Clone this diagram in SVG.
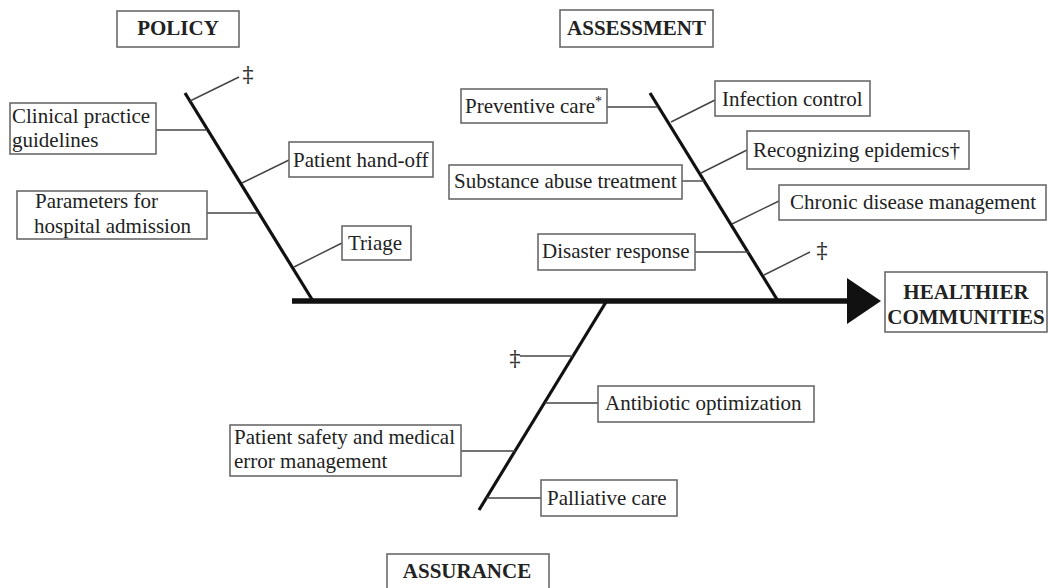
<svg xmlns="http://www.w3.org/2000/svg" width="1048" height="588" viewBox="0 0 1048 588">
<style>
  .box { fill: #ffffff; stroke: #6a6a6a; stroke-width: 1.6; }
  .t { font-family: "Liberation Serif", "Times New Roman", serif; font-size: 21px; fill: #222222; }
  .h { font-family: "Liberation Serif", "Times New Roman", serif; font-size: 21px; font-weight: bold; fill: #222222; text-anchor: middle; }
  .bone { stroke: #111111; stroke-width: 3.2; fill: none; stroke-linecap: butt; }
  .twig { stroke: #444444; stroke-width: 1.4; fill: none; }
  .dd { font-family: "DejaVu Serif", "Liberation Serif", serif; font-size: 22px; fill: #333333; text-anchor: middle; }
</style>
<rect width="1048" height="588" fill="#ffffff"/>

<g id="connectors">
  <!-- spine -->
  <line x1="292" y1="301" x2="852" y2="301" stroke="#111111" stroke-width="5.5"/>
  <polygon points="847,278 881,301 847,324" fill="#111111"/>
  <!-- main bones -->
  <line class="bone" x1="185" y1="93" x2="313" y2="301"/>
  <line class="bone" x1="650" y1="93" x2="778" y2="301"/>
  <line class="bone" x1="606" y1="302" x2="479" y2="510"/>
  <!-- policy twigs -->
  <line class="twig" x1="190" y1="101" x2="239" y2="77"/>
  <line class="twig" x1="156" y1="130" x2="207" y2="130"/>
  <line class="twig" x1="242" y1="183" x2="289" y2="160"/>
  <line class="twig" x1="207" y1="213" x2="258" y2="213"/>
  <line class="twig" x1="294" y1="267" x2="342" y2="243"/>
  <!-- assessment twigs -->
  <line class="twig" x1="607" y1="107" x2="658" y2="107"/>
  <line class="twig" x1="671" y1="122" x2="715" y2="100"/>
  <line class="twig" x1="701" y1="173" x2="747" y2="150"/>
  <line class="twig" x1="682" y1="181" x2="704" y2="181"/>
  <line class="twig" x1="732" y1="224" x2="779" y2="201"/>
  <line class="twig" x1="695" y1="252" x2="749" y2="252"/>
  <line class="twig" x1="764" y1="275" x2="810" y2="252"/>
  <!-- assurance twigs -->
  <line class="twig" x1="520" y1="356" x2="573" y2="356"/>
  <line class="twig" x1="545" y1="403" x2="598" y2="403"/>
  <line class="twig" x1="461" y1="451" x2="515" y2="451"/>
  <line class="twig" x1="486" y1="498" x2="541" y2="498"/>
</g>

<g id="policy">
  <rect class="box" x="117" y="11" width="122" height="36"/>
  <text class="h" x="178" y="35">POLICY</text>
</g>
<g id="assessment">
  <rect class="box" x="560" y="10" width="153" height="37"/>
  <text class="h" x="636.5" y="35">ASSESSMENT</text>
</g>
<g id="assurance">
  <rect class="box" x="387" y="554" width="162" height="42"/>
  <text class="h" x="467" y="578">ASSURANCE</text>
</g>
<g id="healthier-communities">
  <rect class="box" x="885" y="272" width="162" height="60"/>
  <text class="h" x="966" y="299">HEALTHIER</text>
  <text class="h" x="966" y="324">COMMUNITIES</text>
</g>

<g id="dd-policy"><text class="dd" x="248" y="82">‡</text></g>
<g id="clinical-practice-guidelines">
  <rect class="box" x="10" y="103" width="146" height="51"/>
  <text class="t" x="12" y="123">Clinical practice</text>
  <text class="t" x="12" y="147">guidelines</text>
</g>
<g id="patient-hand-off">
  <rect class="box" x="289" y="142" width="144" height="35"/>
  <text class="t" x="293" y="167">Patient hand-off</text>
</g>
<g id="parameters-hospital-admission">
  <rect class="box" x="17" y="191" width="190" height="48"/>
  <text class="t" x="35" y="208">Parameters for</text>
  <text class="t" x="34" y="233">hospital admission</text>
</g>
<g id="triage">
  <rect class="box" x="342" y="226" width="69" height="34"/>
  <text class="t" x="348" y="250">Triage</text>
</g>

<g id="preventive-care">
  <rect class="box" x="461" y="89" width="146" height="34"/>
  <text class="t" x="465" y="113">Preventive care<tspan font-size="14" dy="-7">*</tspan></text>
</g>
<g id="infection-control">
  <rect class="box" x="715" y="81" width="155" height="35"/>
  <text class="t" x="722" y="106">Infection control</text>
</g>
<g id="recognizing-epidemics">
  <rect class="box" x="747" y="131" width="222" height="38"/>
  <text class="t" x="753" y="157">Recognizing epidemics†</text>
</g>
<g id="substance-abuse-treatment">
  <rect class="box" x="449" y="165" width="233" height="34"/>
  <text class="t" x="454" y="188">Substance abuse treatment</text>
</g>
<g id="chronic-disease-management">
  <rect class="box" x="779" y="185" width="267" height="35"/>
  <text class="t" x="790" y="209">Chronic disease management</text>
</g>
<g id="disaster-response">
  <rect class="box" x="538" y="234" width="157" height="36"/>
  <text class="t" x="542" y="258">Disaster response</text>
</g>
<g id="dd-assessment"><text class="dd" x="822" y="258">‡</text></g>

<g id="dd-assurance"><text class="dd" x="515" y="366">‡</text></g>
<g id="antibiotic-optimization">
  <rect class="box" x="598" y="386" width="216" height="36"/>
  <text class="t" x="605" y="410">Antibiotic optimization</text>
</g>
<g id="patient-safety">
  <rect class="box" x="230" y="425" width="231" height="51"/>
  <text class="t" x="234" y="444">Patient safety and medical</text>
  <text class="t" x="234" y="468">error management</text>
</g>
<g id="palliative-care">
  <rect class="box" x="541" y="480" width="136" height="36"/>
  <text class="t" x="547" y="505">Palliative care</text>
</g>
</svg>
